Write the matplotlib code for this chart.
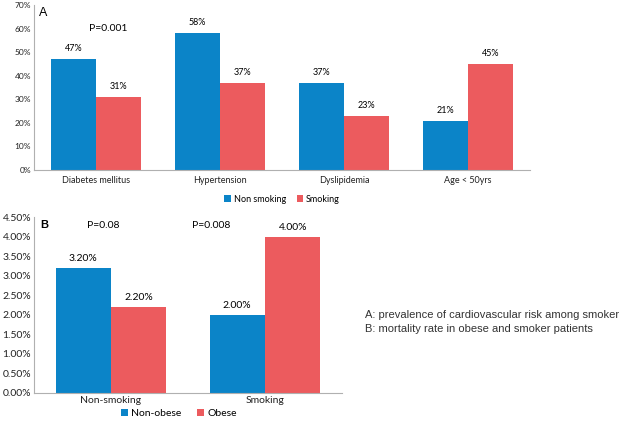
import numpy as np
import matplotlib.pyplot as plt
from matplotlib.ticker import FuncFormatter

# Panel A: prevalence of cardiovascular risk
risk_factors = ["Diabetes mellitus", "Hypertension", "Dyslipidemia", "Age < 50yrs"]
non_smoking = [47, 58, 37, 21]
smoking = [31, 37, 23, 45]

# Panel B: mortality rate
groups = ["Non-smoking", "Smoking"]
non_obese = [3.2, 2.0]
obese = [2.2, 4.0]
p_values_b = ["P=0.08", "P=0.008"]

blue = "#0B84C8"
red = "#EC5B5E"
plt.rcParams['font.family'] = ['Lato', 'DejaVu Sans']

W, H = 625, 421
fig = plt.figure(figsize=(W / 100, H / 100), dpi=100)


def px_axes(x0, y0, x1, y1):
    # pixel box (top-left origin) -> figure fraction
    return fig.add_axes([x0 / W, 1 - y1 / H, (x1 - x0) / W, (y1 - y0) / H])


def style(ax, fs):
    for s in ["top", "right"]:
        ax.spines[s].set_visible(False)
    for s in ["left", "bottom"]:
        ax.spines[s].set_color("#b0b0b0")
        ax.spines[s].set_linewidth(0.8)
    ax.tick_params(axis="both", length=0, labelsize=fs, colors="#222222", pad=2)


# ---- Panel A ----
axA = px_axes(34, 5, 530, 170)
x = np.arange(len(risk_factors))
bw = 0.36
b1 = axA.bar(x - bw / 2, non_smoking, bw, color=blue, label="Non smoking")
b2 = axA.bar(x + bw / 2, smoking, bw, color=red, label="Smoking")
for bars in (b1, b2):
    for r in bars:
        axA.text(r.get_x() + r.get_width() / 2, r.get_height() + 2.5, f"{r.get_height():.0f}%",
                 ha="center", va="bottom", fontsize=6.5)
axA.set_xlim(-0.5, 3.5)
axA.set_ylim(0, 70)
axA.set_yticks(range(0, 71, 10))
axA.yaxis.set_major_formatter(FuncFormatter(lambda v, p: f"{v:.0f}%"))
axA.set_xticks(x)
axA.set_xticklabels(risk_factors)
style(axA, 6)
axA.tick_params(axis="x", pad=4, labelsize=6.5)
axA.text(0.01, 0.99, "A", transform=axA.transAxes, fontsize=9, va="top", family="Liberation Sans")
axA.text(0.1, 60, "P=0.001", fontsize=7.5, ha="center", va="center")
axA.legend(loc="upper center", bbox_to_anchor=(0.5, -0.1), ncol=2, frameon=False,
           fontsize=6.5, handlelength=0.7, handleheight=0.7, handletextpad=0.3, columnspacing=1.2)

# ---- Panel B ----
axB = px_axes(34, 217, 342, 393)
xb = np.arange(len(groups))
c1 = axB.bar(xb - bw / 2, non_obese, bw, color=blue, label="Non-obese")
c2 = axB.bar(xb + bw / 2, obese, bw, color=red, label="Obese")
for bars in (c1, c2):
    for r in bars:
        axB.text(r.get_x() + r.get_width() / 2, r.get_height() + 0.12, f"{r.get_height():.2f}%",
                 ha="center", va="bottom", fontsize=7.5)
axB.set_xlim(-0.5, 1.5)
axB.set_ylim(0, 4.5)
axB.set_yticks(np.arange(0, 4.51, 0.5))
axB.yaxis.set_major_formatter(FuncFormatter(lambda v, p: f"{v:.2f}%"))
axB.set_xticks(xb)
axB.set_xticklabels(groups)
style(axB, 7.5)
axB.tick_params(axis="y", labelsize=7.5)
axB.text(0.02, 0.985, "B", transform=axB.transAxes, fontsize=8, va="top", weight="bold",
         family="Liberation Sans")
for xi, off, pv in zip(xb, [-0.05, -0.35], p_values_b):
    axB.text(xi + off, 4.28, pv, fontsize=7.5, ha="center", va="center")
axB.legend(loc="upper center", bbox_to_anchor=(0.47, -0.085), ncol=2, frameon=False,
           fontsize=7.5, handlelength=0.7, handleheight=0.7, handletextpad=0.3, columnspacing=1.5,
           borderaxespad=0, borderpad=0.1)

# caption
fig.text(365 / W, 1 - 315 / H, "A: prevalence of cardiovascular risk among smoker",
         fontsize=8, color="#333333", va="center", family="Liberation Sans")
fig.text(365 / W, 1 - 329 / H, "B: mortality rate in obese and smoker patients",
         fontsize=8, color="#333333", va="center", family="Liberation Sans")

fig.savefig("out.png", dpi=100)
